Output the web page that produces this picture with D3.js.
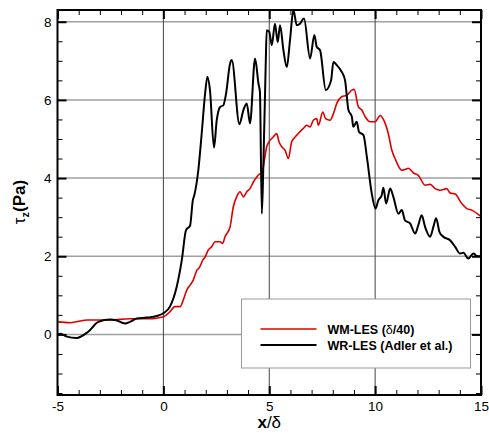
<!DOCTYPE html>
<html>
<head>
<meta charset="utf-8">
<script src="https://cdn.jsdelivr.net/npm/d3@7"></script>
<style>
  body { margin: 0; background: #fff; }
  svg { font-family: "Liberation Sans", Arial, Helvetica, sans-serif; }
  .axis path { display: none; }
  .axis text { font-size: 13.5px; fill: #000; }
</style>
</head>
<body>
<svg id="chart" width="489" height="434"></svg>
<script>
// x/delta positions and wall shear stress (Pa)
const wrX = [-5.00, -4.85, -4.60, -4.09, -3.55, -3.07, -2.52, -2.28, -1.81, -1.58, -1.26, -0.79, -0.31, 0.00,
  0.31, 0.63, 0.87, 1.07, 1.26, 1.39, 1.46, 1.65, 1.81, 1.97, 2.08, 2.20, 2.39, 2.52, 2.68, 2.83, 2.96, 3.15, 3.23,
  3.59, 3.78, 3.94, 4.09, 4.33, 4.49, 4.56, 4.65, 4.72, 4.83, 4.88, 5.00, 5.12, 5.27, 5.40, 5.51, 5.67, 5.83, 5.98,
  6.14, 6.30, 6.45, 6.64, 6.93, 7.13, 7.24, 7.40, 7.67, 7.92, 8.03, 8.19, 8.42, 8.58, 8.74, 8.90, 8.97, 9.13, 9.24,
  9.45, 9.61, 9.84, 10.02, 10.15, 10.31, 10.39, 10.52, 10.71, 10.86, 11.10, 11.26, 11.41, 11.65, 11.89, 12.04,
  12.20, 12.36, 12.60, 12.75, 12.88, 13.04, 13.22, 13.54, 13.78, 14.01, 14.17, 14.40, 14.64, 14.80, 14.96];
const wrTau = [0.00, 0.02, -0.05, -0.09, 0.07, 0.32, 0.38, 0.37, 0.28, 0.32, 0.41, 0.43, 0.47, 0.54,
  0.71, 1.22, 1.90, 2.67, 2.78, 3.43, 3.56, 4.20, 5.14, 6.16, 6.59, 6.25, 4.78, 5.48, 5.82, 5.86, 6.16, 6.93, 7.02,
  5.38, 5.74, 5.91, 5.40, 7.06, 6.42, 6.20, 3.09, 4.29, 6.84, 7.78, 7.74, 7.40, 7.95, 7.48, 7.91, 7.27, 6.84, 7.53,
  8.30, 7.91, 7.95, 8.08, 7.06, 7.66, 7.36, 7.27, 6.25, 6.50, 6.97, 6.89, 6.72, 6.50, 5.74, 5.57, 5.31, 5.44, 5.18,
  5.10, 4.54, 3.61, 3.22, 3.43, 3.56, 3.75, 3.35, 3.73, 3.52, 3.09, 3.18, 2.92, 2.84, 2.58, 2.80,
  3.05, 2.75, 2.50, 2.75, 2.97, 2.62, 2.50, 2.41, 2.24, 2.07, 2.09, 1.94, 2.07, 2.01, 2.00];

const wmX = [-5.00, -4.41, -3.56, -2.52, -1.58, -0.63, -0.39, 0.00, 0.31, 0.54, 0.79, 0.94, 1.10, 1.26, 1.41,
  1.58, 1.70, 1.86, 1.97, 2.12, 2.28, 2.44, 2.68, 2.80, 2.91, 3.15, 3.30, 3.46, 3.62, 3.78, 3.94, 4.09, 4.25, 4.41,
  4.53, 4.65, 4.77, 4.88, 5.04, 5.19, 5.35, 5.46, 5.59, 5.75, 5.90, 6.06, 6.22, 6.37, 6.61, 6.77, 6.93, 7.08, 7.24,
  7.32, 7.53, 7.66, 7.87, 8.03, 8.19, 8.42, 8.66, 8.90, 9.01, 9.21, 9.37, 9.53, 9.76, 10.00, 10.24, 10.39, 10.62,
  10.79, 10.94, 11.26, 11.41, 11.57, 11.81, 12.04, 12.36, 12.60, 12.83, 13.07, 13.38, 13.54, 13.78, 14.09, 14.33,
  14.56, 14.96];
const wmTau = [0.32, 0.30, 0.37, 0.37, 0.40, 0.40, 0.41, 0.45, 0.58, 0.71, 0.71, 0.88, 1.13, 1.26, 1.39,
  1.64, 1.71, 1.90, 1.98, 2.16, 2.24, 2.37, 2.37, 2.33, 2.50, 2.75, 3.26, 3.52, 3.65, 3.52, 3.65, 3.73, 3.90, 4.03,
  4.10, 4.12, 4.46, 4.80, 4.97, 5.05, 5.14, 4.93, 4.80, 4.71, 4.50, 4.93, 5.05, 5.14, 5.27, 5.35, 5.31, 5.48, 5.52,
  5.35, 5.69, 5.52, 5.48, 5.65, 5.91, 6.08, 6.12, 6.25, 6.27, 5.82, 5.74, 5.57, 5.44, 5.44, 5.60, 5.50, 5.14,
  4.71, 4.50, 4.20, 4.22, 4.25, 4.13, 4.07, 3.82, 3.84, 3.73, 3.69, 3.73, 3.62, 3.59, 3.35, 3.22,
  3.18, 3.03];

const xMajor = [-5, 0, 5, 10, 15];
const yMajor = [0, 2, 4, 6, 8];
const xGrid = [0, 5, 10];
const seriesNames = ["WM-LES (\u03b4/40)", "WR-LES (Adler et al.)"];
const seriesColors = ["#dd0000", "#000000"];

const margin = {top: 10, right: 8, bottom: 39, left: 57.5};
const width = 489 - margin.left - margin.right;
const height = 434 - margin.top - margin.bottom;

const svg = d3.select("#chart");
const g = svg.append("g").attr("transform", "translate(" + margin.left + "," + margin.top + ")");

const x = d3.scaleLinear().domain([-5, 15]).range([0, width]);
const y = d3.scaleLinear().domain([-1.55, 8.3]).range([height, 0]);

// grid lines
g.selectAll(".hgrid").data(yMajor).enter().append("line")
  .attr("x1", 0).attr("x2", width)
  .attr("y1", d => y(d)).attr("y2", d => y(d))
  .attr("stroke", "#a0a0a0").attr("stroke-width", 1.5);
g.selectAll(".vgrid").data(xGrid).enter().append("line")
  .attr("x1", d => x(d)).attr("x2", d => x(d))
  .attr("y1", 0).attr("y2", height)
  .attr("stroke", "#444").attr("stroke-width", 1);

// ticks on all four sides, pointing inward
const xMinor = d3.range(-5, 15.01, 1).filter(v => !xMajor.includes(v));
const yMinor = d3.range(-1.5, 8.3, 0.5).filter(v => !yMajor.includes(v));

function tickAxis(axis, tr, labels, sw) {
  const a = g.append("g").attr("class", "axis").attr("transform", tr).call(axis);
  a.selectAll("line").attr("stroke", "#000").attr("stroke-width", sw);
  if (!labels) a.selectAll("text").remove();
  return a;
}

const bx = tickAxis(d3.axisBottom(x).tickValues(xMajor).tickSize(-9).tickPadding(6), "translate(0," + height + ")", true, 2);
tickAxis(d3.axisBottom(x).tickValues(xMinor).tickSize(-5), "translate(0," + height + ")", false, 1);
tickAxis(d3.axisTop(x).tickValues(xMajor).tickSize(-9), "translate(0,0)", false, 2);
tickAxis(d3.axisTop(x).tickValues(xMinor).tickSize(-5), "translate(0,0)", false, 1);
tickAxis(d3.axisLeft(y).tickValues(yMajor).tickSize(-9).tickPadding(6), "translate(0,0)", true, 2);
tickAxis(d3.axisLeft(y).tickValues(yMinor).tickSize(-5), "translate(0,0)", false, 1);
tickAxis(d3.axisRight(y).tickValues(yMajor).tickSize(-9), "translate(" + width + ",0)", false, 2);
tickAxis(d3.axisRight(y).tickValues(yMinor).tickSize(-5), "translate(" + width + ",0)", false, 1);

bx.selectAll("text").text(d => d < 0 ? "-" + Math.abs(d) : d);

// curves
g.append("clipPath").attr("id", "clip").append("rect").attr("width", width).attr("height", height);

const line = d3.line()
  .x(d => x(d[0]))
  .y(d => y(d[1]))
  .curve(d3.curveMonotoneX);

g.append("path")
  .datum(d3.zip(wmX, wmTau))
  .attr("clip-path", "url(#clip)")
  .attr("d", line)
  .attr("fill", "none")
  .attr("stroke", seriesColors[0])
  .attr("stroke-width", 1.6);

g.append("path")
  .datum(d3.zip(wrX, wrTau))
  .attr("clip-path", "url(#clip)")
  .attr("d", line)
  .attr("fill", "none")
  .attr("stroke", seriesColors[1])
  .attr("stroke-width", 2);

// frame
g.append("rect")
  .attr("width", width).attr("height", height)
  .attr("fill", "none").attr("stroke", "#000").attr("stroke-width", 2);

// legend
const lg = svg.append("g").attr("transform", "translate(241.5,299)");
lg.append("rect")
  .attr("width", 229).attr("height", 69)
  .attr("fill", "#fff").attr("stroke", "#999").attr("stroke-width", 1);
seriesNames.forEach((name, i) => {
  const yy = 30 + i * 16;
  lg.append("line")
    .attr("x1", 19).attr("x2", 75)
    .attr("y1", yy).attr("y2", yy)
    .attr("stroke", seriesColors[i]).attr("stroke-width", i == 0 ? 1.6 : 2);
  const t = lg.append("text")
    .attr("x", 86).attr("y", yy + 4.5)
    .style("font-size", "12.5px").style("font-weight", "bold");
  if (i == 0) {
    t.append("tspan").text("WM-LES (");
    t.append("tspan").style("font-weight", "normal").text("\u03b4");
    t.append("tspan").text("/40)");
  } else {
    t.text(name);
  }
});

// axis titles
const xt = svg.append("text")
  .attr("x", margin.left + x(5)).attr("y", 428)
  .attr("text-anchor", "middle")
  .style("font-size", "17px");
xt.append("tspan").style("font-weight", "bold").text("x");
xt.append("tspan").text("/\u03b4");

const yt = svg.append("text")
  .attr("transform", "translate(25,202) rotate(-90)")
  .attr("text-anchor", "middle")
  .style("font-size", "17px");
yt.append("tspan").text("\u03c4");
yt.append("tspan").attr("dy", 4).style("font-size", "11px").style("font-weight", "bold").text("z");
yt.append("tspan").attr("dy", -4).style("font-weight", "bold").text("(Pa)");
</script>
</body>
</html>
